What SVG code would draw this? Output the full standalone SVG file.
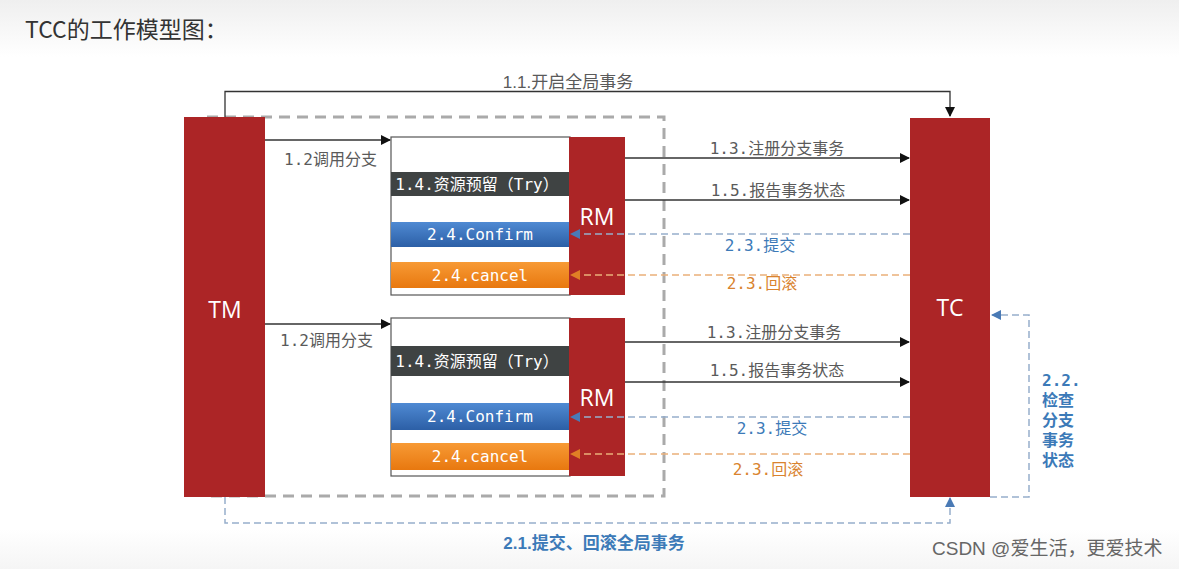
<svg xmlns="http://www.w3.org/2000/svg" width="1179" height="569" viewBox="0 0 1179 569">
<style>
.lbl{font-family:"DejaVu Sans Mono","Noto Sans CJK SC",monospace;font-size:16px;fill:#5a5a5a;}
.bar{font-family:"DejaVu Sans Mono","Noto Sans CJK SC",monospace;font-size:16px;fill:#fff;text-anchor:middle;}
.big{font-family:"Open Sans","Noto Sans CJK SC",sans-serif;font-size:23px;fill:#fff;text-anchor:middle;font-weight:500;}
.blue{fill:#3c7ab8;}
.orange{fill:#d9832e;}
.red{fill:#ac2526;}
.solid{stroke:#333;stroke-width:1.3;fill:none;}
.dblue{stroke:#97aecb;stroke-width:1.5;fill:none;stroke-dasharray:7 4;}
.dorange{stroke:#eab07a;stroke-width:1.5;fill:none;stroke-dasharray:7 4;}
</style>
<defs>
<linearGradient id="bg" x1="0" y1="0" x2="0" y2="1">
<stop offset="0" stop-color="#efefef"/><stop offset="0.1" stop-color="#fff"/><stop offset="0.93" stop-color="#fff"/><stop offset="1" stop-color="#f5f5f5"/>
</linearGradient>
<linearGradient id="gBlue" x1="0" y1="0" x2="0" y2="1">
<stop offset="0" stop-color="#4f8ad3"/><stop offset="1" stop-color="#2c5fa6"/>
</linearGradient>
<linearGradient id="gOrange" x1="0" y1="0" x2="0" y2="1">
<stop offset="0" stop-color="#f79a35"/><stop offset="1" stop-color="#e8780f"/>
</linearGradient>
<marker id="aBlack" markerWidth="10" markerHeight="10" refX="9" refY="5" orient="auto" markerUnits="userSpaceOnUse">
<path d="M0,0 L10,5 L0,10 z" fill="#111"/>
</marker>
<marker id="aBlue" markerWidth="10" markerHeight="10" refX="9" refY="5" orient="auto" markerUnits="userSpaceOnUse">
<path d="M0,0 L10,5 L0,10 z" fill="#4a7ab5"/>
</marker>
<marker id="aOrange" markerWidth="10" markerHeight="10" refX="9" refY="5" orient="auto" markerUnits="userSpaceOnUse">
<path d="M0,0 L10,5 L0,10 z" fill="#e07f25"/>
</marker>
</defs>
<rect x="0" y="0" width="1179" height="569" fill="url(#bg)"/>
<text x="25" y="38" font-family="'Noto Sans CJK SC',sans-serif" font-size="23" fill="#333">TCC的工作模型图：</text>

<rect id="scope" x="207" y="117" width="457" height="379" fill="none" stroke="#aaa" stroke-width="3" stroke-dasharray="11 7"/>

<g id="TM"><rect class="red" x="184" y="117" width="81" height="380"/><text class="big" x="225" y="318">TM</text></g>
<g id="TC"><rect class="red" x="910" y="118" width="80" height="379"/><text class="big" x="950" y="316">TC</text></g>

<g id="branch1">
<rect x="391" y="137" width="179" height="158" fill="#fff" stroke="#555" stroke-width="1.2"/>
<rect class="red" x="569" y="137" width="56" height="158"/>
<text class="big" x="597" y="225">RM</text>
<rect x="391" y="172" width="178" height="24" fill="#3f4343"/>
<text class="bar" x="477" y="190">1.4.资源预留（Try）</text>
<rect x="391" y="222" width="178" height="25" fill="url(#gBlue)"/>
<text class="bar" x="480" y="240">2.4.Confirm</text>
<rect x="391" y="262" width="178" height="26" fill="url(#gOrange)"/>
<text class="bar" x="480" y="281">2.4.cancel</text>
</g>

<g id="branch2">
<rect x="391" y="318" width="179" height="158" fill="#fff" stroke="#555" stroke-width="1.2"/>
<rect class="red" x="569" y="318" width="56" height="158"/>
<text class="big" x="597" y="406">RM</text>
<rect x="391" y="346" width="178" height="30" fill="#3f4343"/>
<text class="bar" x="477" y="367">1.4.资源预留（Try）</text>
<rect x="391" y="403" width="178" height="27" fill="url(#gBlue)"/>
<text class="bar" x="480" y="422">2.4.Confirm</text>
<rect x="391" y="443" width="178" height="27" fill="url(#gOrange)"/>
<text class="bar" x="480" y="462">2.4.cancel</text>
</g>

<g id="connectors">
<path class="solid" d="M225,117 V91.5 H950 V116" marker-end="url(#aBlack)"/>
<path class="solid" d="M265,140 H390" marker-end="url(#aBlack)"/>
<path class="solid" d="M265,324 H390" marker-end="url(#aBlack)"/>
<path class="solid" d="M625,158 H909" marker-end="url(#aBlack)"/>
<path class="solid" d="M625,200 H909" marker-end="url(#aBlack)"/>
<path class="solid" d="M625,342 H909" marker-end="url(#aBlack)"/>
<path class="solid" d="M625,382 H909" marker-end="url(#aBlack)"/>
<path class="dblue" d="M910,234 H571" marker-end="url(#aBlue)"/>
<path class="dorange" d="M910,275 H571" marker-end="url(#aOrange)"/>
<path class="dblue" d="M910,417 H571" marker-end="url(#aBlue)"/>
<path class="dorange" d="M910,454 H571" marker-end="url(#aOrange)"/>
<path class="dblue" d="M990,497 H1029 V315 H992" marker-end="url(#aBlue)"/>
<path class="dblue" d="M225,497 V523 H950 V498" marker-end="url(#aBlue)"/>
</g>

<g id="labels">
<text class="lbl" x="568" y="88" text-anchor="middle" style="font-family:'Liberation Sans','Noto Sans CJK SC',sans-serif;font-size:17px">1.1.开启全局事务</text>
<text class="lbl" x="284" y="165">1.2调用分支</text>
<text class="lbl" x="280" y="346">1.2调用分支</text>
<text class="lbl" x="777" y="154" text-anchor="middle">1.3.注册分支事务</text>
<text class="lbl" x="778" y="196" text-anchor="middle">1.5.报告事务状态</text>
<text class="lbl blue" x="760" y="251" text-anchor="middle">2.3.提交</text>
<text class="lbl orange" x="762" y="289" text-anchor="middle">2.3.回滚</text>
<text class="lbl" x="774" y="338" text-anchor="middle">1.3.注册分支事务</text>
<text class="lbl" x="777" y="376" text-anchor="middle">1.5.报告事务状态</text>
<text class="lbl blue" x="772" y="434" text-anchor="middle">2.3.提交</text>
<text class="lbl orange" x="768" y="475" text-anchor="middle">2.3.回滚</text>
<g font-weight="600">
<text class="lbl blue" x="1042" y="386">2.2.</text>
<text class="lbl blue" x="1042" y="406">检查</text>
<text class="lbl blue" x="1042" y="426">分支</text>
<text class="lbl blue" x="1042" y="446">事务</text>
<text class="lbl blue" x="1042" y="466">状态</text>
</g>
<text class="lbl blue" x="594" y="549" text-anchor="middle" style="font-family:'Liberation Sans','Noto Sans CJK SC',sans-serif;font-size:17px;font-weight:600">2.1.提交、回滚全局事务</text>
</g>
<text x="932" y="555" font-family="'Liberation Sans','Noto Sans CJK SC',sans-serif" font-size="19" fill="#666">CSDN @爱生活，更爱技术</text>
</svg>
